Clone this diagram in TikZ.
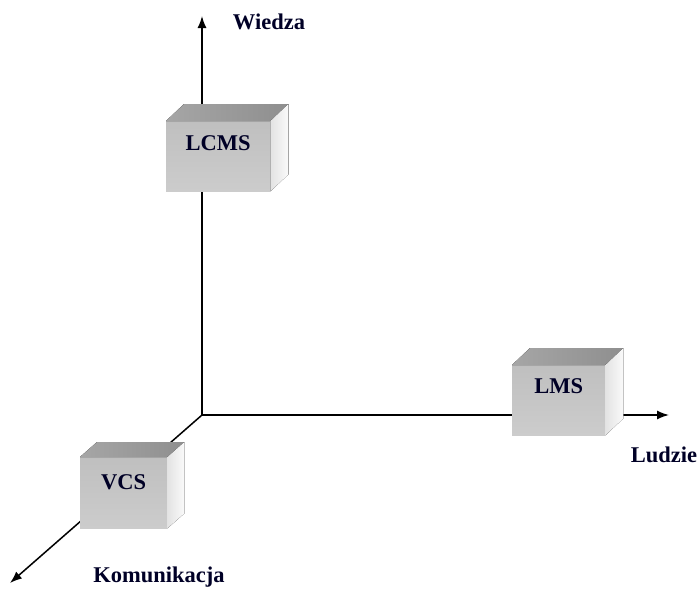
\documentclass[tikz,border=0pt]{standalone}
\usepackage{fontspec}
\setmainfont{Liberation Serif}
\usetikzlibrary{calc,arrows.meta}
\begin{document}
\begin{tikzpicture}[x=1pt,y=-1pt,
  axis/.style={line width=1.5pt,-{Latex[length=12pt,width=9pt]}},
  frontface/.style={draw=none,inner sep=0pt,anchor=north west,top color=gray!50,bottom color=gray!40},
  topface/.style={left color=gray!70,right color=gray!88},
  sideface/.style={left color=gray!22,right color=gray!4},
  boxtext/.style={font=\bfseries\fontsize{22.5}{24}\selectfont,text=black!85!blue},
  axlabel/.style={font=\bfseries\fontsize{22.5}{24}\selectfont,text=black!85!blue}]
\useasboundingbox (0,0) rectangle (699,589);
\coordinate (O) at (202,415);
\coordinate (wtip) at (202,16);
\coordinate (ltip) at (669,415);
\coordinate (ktip) at (10,583);
\draw[axis] (O) -- (wtip);
\draw[axis] (O) -- (ltip);
\draw[axis] (O) -- (ktip);
% LCMS
\node[frontface,minimum width=104pt,minimum height=70pt] (lcmsf) at (166,121) {};
\fill[topface] (lcmsf.north west) -- ++(18,-17) -- ($(lcmsf.north east)+(18,-17)$) -- (lcmsf.north east) -- cycle;
\fill[sideface] (lcmsf.north east) -- ++(18,-17) -- ($(lcmsf.south east)+(18,-17)$) -- (lcmsf.south east) -- cycle;
\node[boxtext] (lcms) at ($(lcmsf.north)+(0,22)$) {LCMS};
% LMS
\node[frontface,minimum width=93pt,minimum height=70pt] (lmsf) at (512,365) {};
\fill[topface] (lmsf.north west) -- ++(18,-17) -- ($(lmsf.north east)+(18,-17)$) -- (lmsf.north east) -- cycle;
\fill[sideface] (lmsf.north east) -- ++(18,-17) -- ($(lmsf.south east)+(18,-17)$) -- (lmsf.south east) -- cycle;
\node[boxtext] (lms) at ($(lmsf.north)+(0,21)$) {LMS};
% VCS
\node[frontface,minimum width=87pt,minimum height=71pt] (vcsf) at (80,457) {};
\fill[topface] (vcsf.north west) -- ++(17,-15) -- ($(vcsf.north east)+(17,-15)$) -- (vcsf.north east) -- cycle;
\fill[sideface] (vcsf.north east) -- ++(17,-15) -- ($(vcsf.south east)+(17,-15)$) -- (vcsf.south east) -- cycle;
\node[boxtext] (vcs) at ($(vcsf.north)+(0,25)$) {VCS};
% labels
\node[axlabel] (wiedza) at (269,22) {Wiedza};
\node[axlabel] (ludzie) at (664,455) {Ludzie};
\node[axlabel] (komunikacja) at (159,577) {Komunikacja};
\end{tikzpicture}
\end{document}
